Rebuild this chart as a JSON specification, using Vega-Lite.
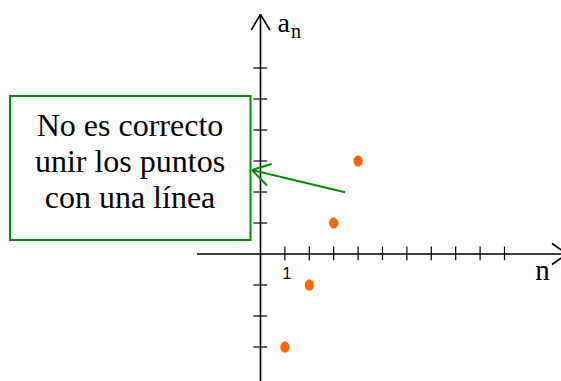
{
  "$schema": "https://vega.github.io/schema/vega-lite/v6.json",
  "width": 561,
  "height": 381,
  "autosize": "none",
  "padding": 0,
  "background": "white",
  "config": {"view": {"stroke": null}},
  "datasets": {
    "axisLines": [
      {"x": -2.602, "y": 0, "x2": 12.56, "y2": 0},
      {"x": 11.947, "y": 0.339, "x2": 12.56, "y2": 0},
      {"x": 11.947, "y": -0.339, "x2": 12.56, "y2": 0},
      {"x": 0, "y": -4.3, "x2": 0, "y2": 7.732},
      {"x": -0.38, "y": 7.226, "x2": 0, "y2": 7.732},
      {"x": 0.38, "y": 7.226, "x2": 0, "y2": 7.732}
    ],
    "xTicks": [{"n": 1}, {"n": 2}, {"n": 3}, {"n": 4}, {"n": 5}, {"n": 6}, {"n": 7}, {"n": 8}, {"n": 9}, {"n": 10}],
    "yTicks": [{"a": -3}, {"a": -2}, {"a": -1}, {"a": 1}, {"a": 2}, {"a": 3}, {"a": 4}, {"a": 5}, {"a": 6}],
    "points": [
      {"n": 1, "a": -3},
      {"n": 2, "a": -1},
      {"n": 3, "a": 1},
      {"n": 4, "a": 3}
    ],
    "box": [{"x": -10.266, "x2": -0.41, "y": 5.097, "y2": 0.452}],
    "boxText": [
      {"x": -5.348, "y": 3.816, "text": "No es correcto"},
      {"x": -5.348, "y": 2.655, "text": "unir los puntos"},
      {"x": -5.348, "y": 1.474, "text": "con una línea"}
    ],
    "pointer": [
      {"x": 3.463, "y": 1.99, "x2": -0.348, "y2": 2.71},
      {"x": 0.459, "y": 2.903, "x2": -0.348, "y2": 2.71},
      {"x": 0.266, "y": 2.21, "x2": -0.348, "y2": 2.71}
    ]
  },
  "layer": [
    {
      "data": {"name": "axisLines"},
      "mark": {"type": "rule", "color": "black", "strokeWidth": 1.6},
      "encoding": {
        "x": {"field": "x", "type": "quantitative", "scale": {"domain": [-10.676, 12.316], "nice": false, "zero": false}, "axis": null},
        "y": {"field": "y", "type": "quantitative", "scale": {"domain": [-4.097, 8.194], "nice": false, "zero": false}, "axis": null},
        "x2": {"field": "x2"},
        "y2": {"field": "y2"}
      }
    },
    {
      "data": {"name": "xTicks"},
      "mark": {"type": "rule", "color": "black", "strokeWidth": 1.2},
      "encoding": {
        "x": {"field": "n", "type": "quantitative", "scale": {"domain": [-10.676, 12.316], "nice": false, "zero": false}, "axis": null},
        "y": {"datum": 0.24, "type": "quantitative", "scale": {"domain": [-4.097, 8.194], "nice": false, "zero": false}, "axis": null},
        "y2": {"datum": -0.2}
      }
    },
    {
      "data": {"name": "yTicks"},
      "mark": {"type": "rule", "color": "black", "strokeWidth": 1.2},
      "encoding": {
        "y": {"field": "a", "type": "quantitative", "scale": {"domain": [-4.097, 8.194], "nice": false, "zero": false}, "axis": null},
        "x": {"datum": -0.29, "type": "quantitative", "scale": {"domain": [-10.676, 12.316], "nice": false, "zero": false}, "axis": null},
        "x2": {"datum": 0.27}
      }
    },
    {
      "data": {"name": "box"},
      "mark": {"type": "rect", "fill": "white", "stroke": "#0a8a0a", "strokeWidth": 2},
      "encoding": {
        "x": {"field": "x", "type": "quantitative", "scale": {"domain": [-10.676, 12.316], "nice": false, "zero": false}, "axis": null},
        "x2": {"field": "x2"},
        "y": {"field": "y", "type": "quantitative", "scale": {"domain": [-4.097, 8.194], "nice": false, "zero": false}, "axis": null},
        "y2": {"field": "y2"}
      }
    },
    {
      "data": {"name": "boxText"},
      "mark": {"type": "text", "font": "Liberation Serif", "fontSize": 32, "align": "center", "baseline": "alphabetic", "color": "black"},
      "encoding": {
        "x": {"field": "x", "type": "quantitative", "scale": {"domain": [-10.676, 12.316], "nice": false, "zero": false}, "axis": null},
        "y": {"field": "y", "type": "quantitative", "scale": {"domain": [-4.097, 8.194], "nice": false, "zero": false}, "axis": null},
        "text": {"field": "text"}
      }
    },
    {
      "data": {"name": "pointer"},
      "mark": {"type": "rule", "color": "#0a8a0a", "strokeWidth": 2},
      "encoding": {
        "x": {"field": "x", "type": "quantitative", "scale": {"domain": [-10.676, 12.316], "nice": false, "zero": false}, "axis": null},
        "y": {"field": "y", "type": "quantitative", "scale": {"domain": [-4.097, 8.194], "nice": false, "zero": false}, "axis": null},
        "x2": {"field": "x2"},
        "y2": {"field": "y2"}
      }
    },
    {
      "data": {"name": "points"},
      "mark": {"type": "point", "filled": true, "color": "#ff6600", "opacity": 1, "size": 115, "shape": "M -0.86 0 A 0.86 1.04 0 1 0 0.86 0 A 0.86 1.04 0 1 0 -0.86 0 Z"},
      "encoding": {
        "x": {"field": "n", "type": "quantitative", "scale": {"domain": [-10.676, 12.316], "nice": false, "zero": false}, "axis": null},
        "y": {"field": "a", "type": "quantitative", "scale": {"domain": [-4.097, 8.194], "nice": false, "zero": false}, "axis": null}
      }
    },
    {
      "data": {"values": [{"x": 1.086, "y": -0.806, "text": "1"}]},
      "mark": {"type": "text", "font": "Liberation Sans", "fontSize": 16, "align": "center", "baseline": "alphabetic", "color": "black"},
      "encoding": {
        "x": {"field": "x", "type": "quantitative", "scale": {"domain": [-10.676, 12.316], "nice": false, "zero": false}, "axis": null},
        "y": {"field": "y", "type": "quantitative", "scale": {"domain": [-4.097, 8.194], "nice": false, "zero": false}, "axis": null},
        "text": {"field": "text"}
      }
    },
    {
      "data": {"values": [{"x": 11.557, "y": -0.839, "text": "n"}]},
      "mark": {"type": "text", "font": "Liberation Serif", "fontSize": 29, "align": "center", "baseline": "alphabetic", "color": "black"},
      "encoding": {
        "x": {"field": "x", "type": "quantitative", "scale": {"domain": [-10.676, 12.316], "nice": false, "zero": false}, "axis": null},
        "y": {"field": "y", "type": "quantitative", "scale": {"domain": [-4.097, 8.194], "nice": false, "zero": false}, "axis": null},
        "text": {"field": "text"}
      }
    },
    {
      "data": {"values": [{"x": 0.7, "y": 7.171, "text": "a"}]},
      "mark": {"type": "text", "font": "Liberation Serif", "fontSize": 28, "align": "left", "baseline": "alphabetic", "color": "black"},
      "encoding": {
        "x": {"field": "x", "type": "quantitative", "scale": {"domain": [-10.676, 12.316], "nice": false, "zero": false}, "axis": null},
        "y": {"field": "y", "type": "quantitative", "scale": {"domain": [-4.097, 8.194], "nice": false, "zero": false}, "axis": null},
        "text": {"field": "text"}
      }
    },
    {
      "data": {"values": [{"x": 1.25, "y": 6.952, "text": "n"}]},
      "mark": {"type": "text", "font": "Liberation Serif", "fontSize": 20, "align": "left", "baseline": "alphabetic", "color": "black"},
      "encoding": {
        "x": {"field": "x", "type": "quantitative", "scale": {"domain": [-10.676, 12.316], "nice": false, "zero": false}, "axis": null},
        "y": {"field": "y", "type": "quantitative", "scale": {"domain": [-4.097, 8.194], "nice": false, "zero": false}, "axis": null},
        "text": {"field": "text"}
      }
    }
  ]
}
